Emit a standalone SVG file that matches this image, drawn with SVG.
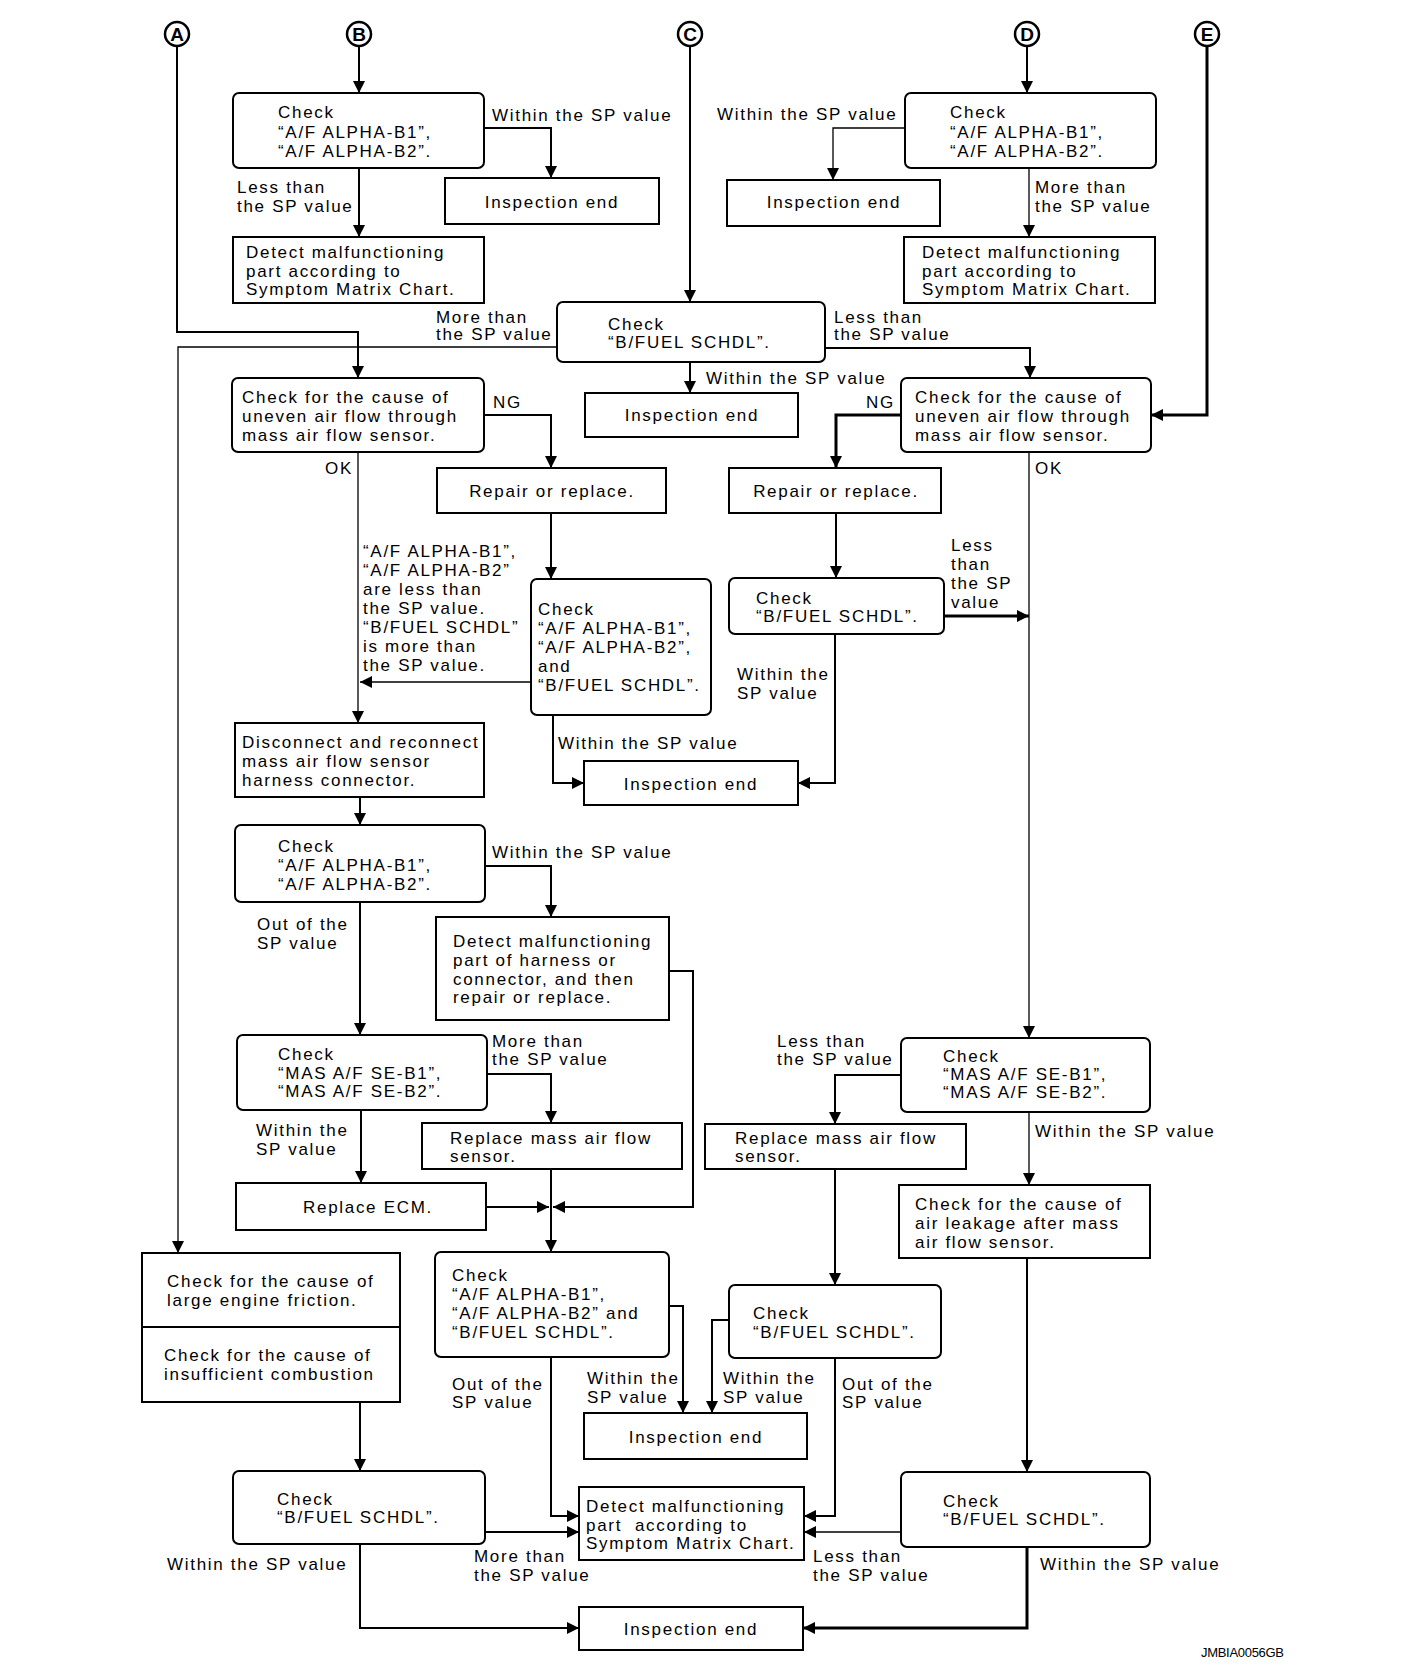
<svg xmlns="http://www.w3.org/2000/svg" width="1408" height="1676" viewBox="0 0 1408 1676">
<style>
.bx{fill:#fff;stroke:#000;stroke-width:2}
.t{font-family:"Liberation Sans",Arial,sans-serif;font-size:17px;letter-spacing:1.7px;fill:#000}
.m{text-anchor:middle}
.ln{fill:none;stroke:#000;stroke-width:2}
.th{stroke-width:1.3}
.tk{stroke-width:3}
.cir{fill:#fff;stroke:#000;stroke-width:2.5}
.cl{font-family:"Liberation Sans",Arial,sans-serif;font-size:19px;font-weight:bold;text-anchor:middle}
</style>
<defs>
<marker id="ar" markerUnits="userSpaceOnUse" markerWidth="12" markerHeight="12" refX="12" refY="6" orient="auto">
<path d="M0,0 L12,6 L0,12 z" fill="#000"/>
</marker>
</defs>
<rect width="1408" height="1676" fill="#fff"/>

<g id="connectors">
<path class="ln" d="M359,46 V93" marker-end="url(#ar)"/>
<path class="ln" d="M484,128 H551 V178" marker-end="url(#ar)"/>
<path class="ln" d="M359,168 V237" marker-end="url(#ar)"/>
<path class="ln" d="M690,46 V302" marker-end="url(#ar)"/>
<path class="ln" d="M1027,46 V93" marker-end="url(#ar)"/>
<path class="ln th" d="M905,128 H833 V180" marker-end="url(#ar)"/>
<path class="ln th" d="M1029,168 V237" marker-end="url(#ar)"/>
<path class="ln" d="M177,46 V332 H358 V378" marker-end="url(#ar)"/>
<path class="ln th" d="M557,347 H178 V1253" marker-end="url(#ar)"/>
<path class="ln" d="M825,348 H1030 V378" marker-end="url(#ar)"/>
<path class="ln" d="M690,362 V393" marker-end="url(#ar)"/>
<path class="ln tk" d="M1207,46 V415 H1151" marker-end="url(#ar)"/>
<path class="ln" d="M484,415 H551 V468" marker-end="url(#ar)"/>
<path class="ln tk" d="M901,415 H836 V468" marker-end="url(#ar)"/>
<path class="ln th" d="M358,452 V723" marker-end="url(#ar)"/>
<path class="ln" d="M551,513 V579" marker-end="url(#ar)"/>
<path class="ln th" d="M531,682 H360" marker-end="url(#ar)"/>
<path class="ln" d="M553,715 V783 H584" marker-end="url(#ar)"/>
<path class="ln" d="M836,513 V578" marker-end="url(#ar)"/>
<path class="ln" d="M835,634 V783 H798" marker-end="url(#ar)"/>
<path class="ln tk" d="M944,616 H1029" marker-end="url(#ar)"/>
<path class="ln th" d="M1029,452 V1038" marker-end="url(#ar)"/>
<path class="ln" d="M360,797 V825" marker-end="url(#ar)"/>
<path class="ln" d="M485,866 H551 V917" marker-end="url(#ar)"/>
<path class="ln" d="M360,902 V1035" marker-end="url(#ar)"/>
<path class="ln" d="M669,971 H693 V1207 H553" marker-end="url(#ar)"/>
<path class="ln" d="M487,1074 H551 V1123" marker-end="url(#ar)"/>
<path class="ln" d="M361,1110 V1183" marker-end="url(#ar)"/>
<path class="ln" d="M486,1207 H549" marker-end="url(#ar)"/>
<path class="ln" d="M551,1169 V1252" marker-end="url(#ar)"/>
<path class="ln" d="M901,1075 H835 V1124" marker-end="url(#ar)"/>
<path class="ln th" d="M1029,1112 V1185" marker-end="url(#ar)"/>
<path class="ln" d="M835,1169 V1285" marker-end="url(#ar)"/>
<path class="ln" d="M669,1306 H683 V1413" marker-end="url(#ar)"/>
<path class="ln" d="M729,1320 H712 V1413" marker-end="url(#ar)"/>
<path class="ln" d="M551,1357 V1516 H579" marker-end="url(#ar)"/>
<path class="ln" d="M835,1358 V1516 H804" marker-end="url(#ar)"/>
<path class="ln" d="M360,1402 V1471" marker-end="url(#ar)"/>
<path class="ln" d="M1027,1258 V1472" marker-end="url(#ar)"/>
<path class="ln" d="M485,1532 H579" marker-end="url(#ar)"/>
<path class="ln th" d="M901,1532 H804" marker-end="url(#ar)"/>
<path class="ln" d="M360,1544 V1628 H579" marker-end="url(#ar)"/>
<path class="ln tk" d="M1027,1547 V1628 H803" marker-end="url(#ar)"/>
</g>

<g id="connA"><circle class="cir" cx="177" cy="34" r="12"/><text class="cl" x="177" y="41">A</text></g>
<g id="connB"><circle class="cir" cx="359" cy="34" r="12"/><text class="cl" x="359" y="41">B</text></g>
<g id="connC"><circle class="cir" cx="690" cy="34" r="12"/><text class="cl" x="690" y="41">C</text></g>
<g id="connD"><circle class="cir" cx="1027" cy="34" r="12"/><text class="cl" x="1027" y="41">D</text></g>
<g id="connE"><circle class="cir" cx="1207" cy="34" r="12"/><text class="cl" x="1207" y="41">E</text></g>

<g id="b_check"><rect class="bx" x="233" y="93" width="251" height="75" rx="6"/>
<text class="t" x="278" y="118">Check</text><text class="t" x="278" y="138">“A/F ALPHA-B1”,</text><text class="t" x="278" y="157">“A/F ALPHA-B2”.</text></g>
<g id="b_end"><rect class="bx" x="445" y="178" width="214" height="46"/><text class="t m" x="552" y="208">Inspection end</text></g>
<g id="b_detect"><rect class="bx" x="233" y="237" width="251" height="66"/>
<text class="t" x="246" y="258">Detect malfunctioning</text><text class="t" x="246" y="277">part according to</text><text class="t" x="246" y="295">Symptom Matrix Chart.</text></g>

<g id="c_check"><rect class="bx" x="557" y="302" width="268" height="60" rx="6"/>
<text class="t" x="608" y="330">Check</text><text class="t" x="608" y="348">“B/FUEL SCHDL”.</text></g>

<g id="d_check"><rect class="bx" x="905" y="93" width="251" height="75" rx="6"/>
<text class="t" x="950" y="118">Check</text><text class="t" x="950" y="138">“A/F ALPHA-B1”,</text><text class="t" x="950" y="157">“A/F ALPHA-B2”.</text></g>
<g id="d_end"><rect class="bx" x="727" y="180" width="213" height="46"/><text class="t m" x="834" y="208">Inspection end</text></g>
<g id="d_detect"><rect class="bx" x="904" y="237" width="251" height="66"/>
<text class="t" x="922" y="258">Detect malfunctioning</text><text class="t" x="922" y="277">part according to</text><text class="t" x="922" y="295">Symptom Matrix Chart.</text></g>

<g id="c_end"><rect class="bx" x="585" y="393" width="213" height="44"/><text class="t m" x="692" y="421">Inspection end</text></g>

<g id="l_uneven"><rect class="bx" x="232" y="378" width="252" height="74" rx="6"/>
<text class="t" x="242" y="403">Check for the cause of</text><text class="t" x="242" y="422">uneven air flow through</text><text class="t" x="242" y="441">mass air flow sensor.</text></g>
<g id="r_uneven"><rect class="bx" x="901" y="378" width="250" height="74" rx="6"/>
<text class="t" x="915" y="403">Check for the cause of</text><text class="t" x="915" y="422">uneven air flow through</text><text class="t" x="915" y="441">mass air flow sensor.</text></g>

<g id="l_repair"><rect class="bx" x="437" y="468" width="229" height="45"/><text class="t m" x="552" y="497">Repair or replace.</text></g>
<g id="r_repair"><rect class="bx" x="729" y="468" width="212" height="45"/><text class="t m" x="836" y="497">Repair or replace.</text></g>

<g id="l_check3"><rect class="bx" x="531" y="579" width="180" height="136" rx="6"/>
<text class="t" x="538" y="615">Check</text><text class="t" x="538" y="634">“A/F ALPHA-B1”,</text><text class="t" x="538" y="653">“A/F ALPHA-B2”,</text><text class="t" x="538" y="672">and</text><text class="t" x="538" y="691">“B/FUEL SCHDL”.</text></g>
<g id="r_bfuel1"><rect class="bx" x="729" y="578" width="215" height="56" rx="6"/>
<text class="t" x="756" y="604">Check</text><text class="t" x="756" y="622">“B/FUEL SCHDL”.</text></g>
<g id="m_end2"><rect class="bx" x="584" y="761" width="214" height="44"/><text class="t m" x="691" y="790">Inspection end</text></g>

<g id="disconnect"><rect class="bx" x="235" y="723" width="249" height="74"/>
<text class="t" x="242" y="748">Disconnect and reconnect</text><text class="t" x="242" y="767">mass air flow sensor</text><text class="t" x="242" y="786">harness connector.</text></g>
<g id="l_check4"><rect class="bx" x="235" y="825" width="250" height="77" rx="6"/>
<text class="t" x="278" y="852">Check</text><text class="t" x="278" y="871">“A/F ALPHA-B1”,</text><text class="t" x="278" y="890">“A/F ALPHA-B2”.</text></g>
<g id="harness"><rect class="bx" x="436" y="917" width="233" height="103"/>
<text class="t" x="453" y="947">Detect malfunctioning</text><text class="t" x="453" y="966">part of harness or</text><text class="t" x="453" y="985">connector, and then</text><text class="t" x="453" y="1003">repair or replace.</text></g>
<g id="l_mas"><rect class="bx" x="237" y="1035" width="250" height="75" rx="6"/>
<text class="t" x="278" y="1060">Check</text><text class="t" x="278" y="1079">“MAS A/F SE-B1”,</text><text class="t" x="278" y="1097">“MAS A/F SE-B2”.</text></g>
<g id="l_maf"><rect class="bx" x="422" y="1123" width="260" height="46"/>
<text class="t" x="450" y="1144">Replace mass air flow</text><text class="t" x="450" y="1162">sensor.</text></g>
<g id="ecm"><rect class="bx" x="236" y="1183" width="250" height="47"/><text class="t m" x="368" y="1213">Replace ECM.</text></g>

<g id="r_mas"><rect class="bx" x="901" y="1038" width="249" height="74" rx="6"/>
<text class="t" x="943" y="1062">Check</text><text class="t" x="943" y="1080">“MAS A/F SE-B1”,</text><text class="t" x="943" y="1098">“MAS A/F SE-B2”.</text></g>
<g id="r_maf"><rect class="bx" x="705" y="1124" width="261" height="45"/>
<text class="t" x="735" y="1144">Replace mass air flow</text><text class="t" x="735" y="1162">sensor.</text></g>
<g id="leak"><rect class="bx" x="899" y="1185" width="251" height="73"/>
<text class="t" x="915" y="1210">Check for the cause of</text><text class="t" x="915" y="1229">air leakage after mass</text><text class="t" x="915" y="1248">air flow sensor.</text></g>

<g id="friction"><rect class="bx" x="142" y="1253" width="258" height="149"/><line class="ln" x1="142" y1="1327" x2="400" y2="1327"/>
<text class="t" x="167" y="1287">Check for the cause of</text><text class="t" x="167" y="1306">large engine friction.</text>
<text class="t" x="164" y="1361">Check for the cause of</text><text class="t" x="164" y="1380">insufficient combustion</text></g>

<g id="m_check5"><rect class="bx" x="435" y="1252" width="234" height="105" rx="6"/>
<text class="t" x="452" y="1281">Check</text><text class="t" x="452" y="1300">“A/F ALPHA-B1”,</text><text class="t" x="452" y="1319">“A/F ALPHA-B2” and</text><text class="t" x="452" y="1338">“B/FUEL SCHDL”.</text></g>
<g id="r_bfuel2"><rect class="bx" x="729" y="1285" width="212" height="73" rx="6"/>
<text class="t" x="753" y="1319">Check</text><text class="t" x="753" y="1338">“B/FUEL SCHDL”.</text></g>
<g id="m_end3"><rect class="bx" x="584" y="1413" width="223" height="46"/><text class="t m" x="696" y="1443">Inspection end</text></g>
<g id="detect_bottom"><rect class="bx" x="579" y="1487" width="225" height="73"/>
<text class="t" x="586" y="1512">Detect malfunctioning</text><text class="t" x="586" y="1531" xml:space="preserve">part  according to</text><text class="t" x="586" y="1549">Symptom Matrix Chart.</text></g>
<g id="l_bfuel3"><rect class="bx" x="233" y="1471" width="252" height="73" rx="6"/>
<text class="t" x="277" y="1505">Check</text><text class="t" x="277" y="1523">“B/FUEL SCHDL”.</text></g>
<g id="r_bfuel3"><rect class="bx" x="901" y="1472" width="249" height="75" rx="6"/>
<text class="t" x="943" y="1507">Check</text><text class="t" x="943" y="1525">“B/FUEL SCHDL”.</text></g>
<g id="end_final"><rect class="bx" x="579" y="1607" width="224" height="43"/><text class="t m" x="691" y="1635">Inspection end</text></g>

<g id="labels">
<text class="t" x="492" y="121">Within the SP value</text>
<text class="t" x="237" y="193">Less than</text><text class="t" x="237" y="212">the SP value</text>
<text class="t" x="717" y="120">Within the SP value</text>
<text class="t" x="1035" y="193">More than</text><text class="t" x="1035" y="212">the SP value</text>
<text class="t" x="436" y="323">More than</text><text class="t" x="436" y="340">the SP value</text>
<text class="t" x="834" y="323">Less than</text><text class="t" x="834" y="340">the SP value</text>
<text class="t" x="706" y="384">Within the SP value</text>
<text class="t" x="493" y="408">NG</text>
<text class="t" x="866" y="408">NG</text>
<text class="t" x="325" y="474">OK</text>
<text class="t" x="1035" y="474">OK</text>
<text class="t" x="363" y="557">“A/F ALPHA-B1”,</text>
<text class="t" x="363" y="576">“A/F ALPHA-B2”</text>
<text class="t" x="363" y="595">are less than</text>
<text class="t" x="363" y="614">the SP value.</text>
<text class="t" x="363" y="633">“B/FUEL SCHDL”</text>
<text class="t" x="363" y="652">is more than</text>
<text class="t" x="363" y="671">the SP value.</text>
<text class="t" x="951" y="551">Less</text><text class="t" x="951" y="570">than</text><text class="t" x="951" y="589">the SP</text><text class="t" x="951" y="608">value</text>
<text class="t" x="737" y="680">Within the</text><text class="t" x="737" y="699">SP value</text>
<text class="t" x="558" y="749">Within the SP value</text>
<text class="t" x="492" y="858">Within the SP value</text>
<text class="t" x="257" y="930">Out of the</text><text class="t" x="257" y="949">SP value</text>
<text class="t" x="492" y="1047">More than</text><text class="t" x="492" y="1065">the SP value</text>
<text class="t" x="777" y="1047">Less than</text><text class="t" x="777" y="1065">the SP value</text>
<text class="t" x="256" y="1136">Within the</text><text class="t" x="256" y="1155">SP value</text>
<text class="t" x="1035" y="1137">Within the SP value</text>
<text class="t" x="452" y="1390">Out of the</text><text class="t" x="452" y="1408">SP value</text>
<text class="t" x="587" y="1384">Within the</text><text class="t" x="587" y="1403">SP value</text>
<text class="t" x="723" y="1384">Within the</text><text class="t" x="723" y="1403">SP value</text>
<text class="t" x="842" y="1390">Out of the</text><text class="t" x="842" y="1408">SP value</text>
<text class="t" x="474" y="1562">More than</text><text class="t" x="474" y="1581">the SP value</text>
<text class="t" x="813" y="1562">Less than</text><text class="t" x="813" y="1581">the SP value</text>
<text class="t" x="167" y="1570">Within the SP value</text>
<text class="t" x="1040" y="1570">Within the SP value</text>
<text x="1201" y="1657" style="font-family:'Liberation Sans',Arial,sans-serif;font-size:13px;letter-spacing:-0.3px">JMBIA0056GB</text>
</g>
</svg>
